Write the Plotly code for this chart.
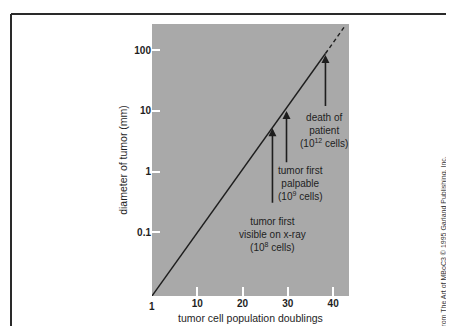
import math
import plotly.graph_objects as go

# ---- data ----
line_x = [0, 38.3]
line_y = [0.009, 88]
dash_x = [38.3, 42.7]
dash_y = [88, 255]

x_tickvals = [10, 20, 30, 40]
x_ticktext = ["10", "20", "30", "40"]
x_origin_label = "1"
y_tickvals = [0.1, 1, 10, 100]
y_ticktext = ["0.1", "1", "10", "100"]

arrow_x = [26.6, 29.7, 38.3]
arrow_tip = [5.2, 10, 83]
arrow_base = [0.29, 1.35, 11.4]

label_x = [26.5, 32.7, 38.0]
label_y = [0.092, 0.65, 4.7]
label_text = [
    "tumor first<br>visible on x-ray<br>(10<sup>8</sup> cells)",
    "tumor first<br>palpable<br>(10<sup>9</sup> cells)",
    "death of<br>patient<br>(10<sup>12</sup> cells)",
]
credit_text = "from The Art of MBoC3 © 1995 Garland Publishing, Inc."

W, H = 454, 326
L, R, T, B = 144, 341, 16, 290
def px(x):
    return (x - L) / (R - L)
def py(y):
    return (B - y) / (B - T)

FONT = "Liberation Sans, Arial, sans-serif"
INK = "#1e1e1e"
PANEL = "#a9a9a9"

fig = go.Figure()
# invisible trace carrying the right-hand credit axis
fig.add_trace(go.Scatter(x=[line_x[0]], y=[0.5], yaxis="y2", mode="markers",
                         marker=dict(opacity=0), hoverinfo="skip"))
fig.add_trace(go.Scatter(x=line_x, y=line_y, mode="lines",
                         line=dict(color=INK, width=1.4), hoverinfo="skip"))
fig.add_trace(go.Scatter(x=dash_x, y=dash_y, mode="lines",
                         line=dict(color=INK, width=1.4, dash="4px,3px"), hoverinfo="skip"))

annotations = []
for x, tip, base in zip(arrow_x, arrow_tip, arrow_base):
    annotations.append(dict(x=x, y=math.log10(tip), ax=x, ay=math.log10(base),
                            xref="x", yref="y", axref="x", ayref="y",
                            text="", showarrow=True, arrowhead=2, arrowsize=1,
                            arrowwidth=1.6, arrowcolor=INK))
for x, y, t in zip(label_x, label_y, label_text):
    annotations.append(dict(x=x, y=math.log10(y), xref="x", yref="y", text=t,
                            showarrow=False, align="center",
                            font=dict(family=FONT, size=10, color=INK)))
annotations.append(dict(x=0, y=0, xref="x", yref="paper", text=x_origin_label,
                        showarrow=False, yanchor="top", yshift=-3,
                        font=dict(family=FONT, size=10, color=INK, weight="bold")))

shapes = [
    # gray panel drawn beneath everything (plot background left transparent)
    dict(type="rect", xref="paper", yref="paper", x0=0, x1=1, y0=0, y1=1,
         fillcolor=PANEL, line=dict(width=0), layer="below"),
    dict(type="line", xref="paper", yref="paper", x0=px(3), x1=px(454), y0=py(6), y1=py(6),
         line=dict(color="#2a2a2a", width=2)),
    dict(type="line", xref="paper", yref="paper", x0=px(3), x1=px(3), y0=py(6), y1=py(326),
         line=dict(color="#2a2a2a", width=2)),
]

fig.update_layout(
    width=W, height=H,
    margin=dict(l=L, r=W - R, t=T, b=H - B),
    paper_bgcolor="white", plot_bgcolor="rgba(0,0,0,0)",
    showlegend=False,
    annotations=annotations, shapes=shapes,
    xaxis=dict(range=[0, 43.5], tickvals=x_tickvals, ticktext=x_ticktext,
               ticks="inside", ticklen=9, tickwidth=2, tickcolor="white",
               showgrid=False, zeroline=False, showline=False,
               tickfont=dict(family=FONT, size=10, color=INK, weight="bold"),
               title=dict(text="tumor cell population doublings", standoff=6,
                          font=dict(family=FONT, size=10.5, color=INK))),
    yaxis=dict(type="log", range=[-2.046, 2.43], tickvals=y_tickvals, ticktext=y_ticktext,
               ticks="inside", ticklen=8, tickwidth=2, tickcolor="white",
               showgrid=False, zeroline=False, showline=False,
               tickfont=dict(family=FONT, size=10, color=INK, weight="bold"),
               title=dict(text="diameter of tumor (mm)", standoff=4,
                          font=dict(family=FONT, size=10.5, color=INK))),
    yaxis2=dict(side="right", anchor="free", position=1.0,
                domain=[0, 0.394], range=[0, 1], showticklabels=False, ticks="",
                showgrid=False, zeroline=False, showline=False,
                title=dict(text=credit_text, standoff=92,
                           font=dict(family=FONT, size=7, color="#333"))),
)

fig.write_html("out.html")
